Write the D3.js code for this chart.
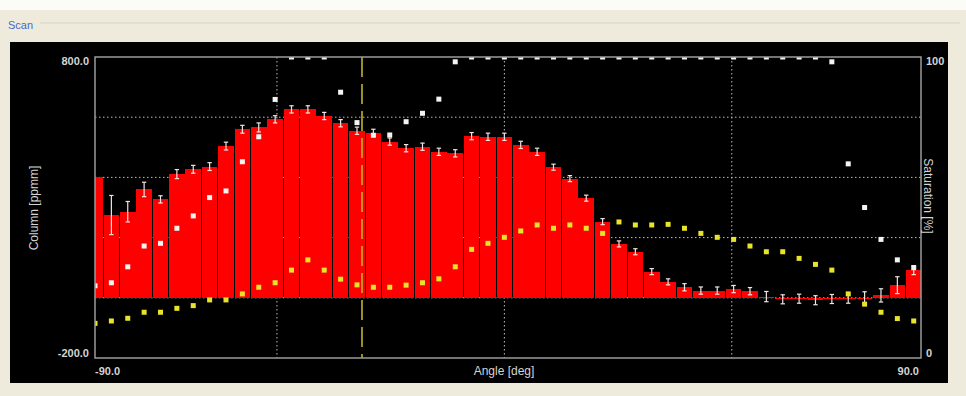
<!DOCTYPE html>
<html><head><meta charset="utf-8">
<script src="https://cdn.jsdelivr.net/npm/d3@7"></script>
<style>
html,body{margin:0;padding:0;background:#eeebdc;}
svg{display:block;}
text{font-family:"Liberation Sans",Arial,sans-serif;}
</style></head>
<body>
<svg id="c" width="966" height="396"></svg>
<script>
// ---- data ----
const angles = [-90,-86.4,-82.8,-79.2,-75.6,-72,-68.4,-64.8,-61.2,-57.6,
  -54,-50.4,-46.8,-43.2,-39.6,-36,-32.4,-28.8,-25.2,-21.6,
  -18,-14.4,-10.8,-7.2,-3.6,0,3.6,7.2,10.8,14.4,
  18,21.6,25.2,28.8,32.4,36,39.6,43.2,46.8,50.4,
  54,57.6,61.2,64.8,68.4,72,75.6,79.2,82.8,86.4,90];
const column = [400,275,286,360,327,411,427,436,504,560,
  566,593,626,626,604,580,555,548,519,497,
  502,485,480,537,535,535,508,485,434,396,
  331,253,179,153,87,53,35,24,24,29,
  22,4,-5,-3,-8,-4,-3,0,8,42,92];
const columnErr = [0,65,34,24,12,15,13,13,13,13,
  15,12,12,12,12,12,12,12,12,12,
  12,12,12,12,12,12,12,12,10,10,
  10,10,10,10,10,10,12,12,12,12,
  12,17,15,15,15,15,15,20,22,28,15];
const satWhite = [24,25,30.3,37.2,38.1,43.1,47.2,53.3,55.5,65.2,
  73.5,85.9,100,100,100,88.3,78.2,74,74.1,78.5,
  81.3,86,98.4,100,100,100,100,100,100,100,
  100,100,100,100,100,100,100,100,100,100,
  100,100,100,100,100,98.4,64.5,50,39.4,32.6,30];
const satYellow = [11.5,12.3,13.2,15.2,15.2,16.5,17.4,19.3,19.3,21.3,
  23.5,25,29.2,32.6,29.2,26.2,24.3,23.5,23.5,24.2,
  25,26.3,30.3,36.1,38.1,40.1,42.2,44.2,43.1,44.2,
  43.1,41.4,45.2,44.2,44.2,44.4,43.1,41.4,40.1,39.4,
  37.2,35.3,35.3,33.1,31.1,29.2,21.3,17.9,15.2,13.1,12.3];
const leftTicks = [-200, 800];
const rightTicks = [0, 100];
const xTickLabels = ["-90.0", "90.0"];
const gridY = [0, 200, 400, 600];
const gridX = [-50, 0, 50];
const cursorAngle = -31.3;

// ---- layout ----
const svg = d3.select("#c");
const L = 95, R = 921, T = 57, B = 358;
const x = d3.scaleLinear().domain([-90, 91.6]).range([L, R]);
const yL = d3.scaleLinear().domain([-200, 800]).range([B, T]);
const yR = d3.scaleLinear().domain([0, 100]).range([B, T]);
const step = x(angles[1]) - x(angles[0]);

// background frame
svg.append("rect").attr("x",0).attr("y",0).attr("width",966).attr("height",10).attr("fill","#fbfbf8");
svg.append("line").attr("x1",40).attr("x2",960).attr("y1",23).attr("y2",23).attr("stroke","#d6d3c0");
svg.append("text").attr("x",8).attr("y",29).attr("font-size",11).attr("fill","#4a68c4").text("Scan");
svg.append("rect").attr("x",10).attr("y",42).attr("width",938).attr("height",341).attr("fill","#000");

svg.append("defs").append("clipPath").attr("id","pc")
  .append("rect").attr("x",L).attr("y",T).attr("width",R-L).attr("height",B-T);
const g = svg.append("g").attr("clip-path","url(#pc)");

// grid
g.selectAll(".gy").data(gridY).join("line")
  .attr("x1",L).attr("x2",R).attr("y1",d=>yL(d)).attr("y2",d=>yL(d))
  .attr("stroke","#bdbdbd").attr("stroke-width",1).attr("stroke-dasharray","1.5,2.5");
g.selectAll(".gx").data(gridX).join("line")
  .attr("y1",T).attr("y2",B).attr("x1",d=>x(d)).attr("x2",d=>x(d))
  .attr("stroke","#bdbdbd").attr("stroke-width",1).attr("stroke-dasharray","1.5,2.5");

// bars
const idx = d3.range(angles.length);
g.selectAll(".bar").data(idx).join("rect")
  .attr("x",i=>x(angles[i]) - step/2 + 0.35)
  .attr("width",step - 0.7)
  .attr("y",i=>Math.min(yL(column[i]), yL(0)))
  .attr("height",i=>Math.max(1, Math.abs(yL(column[i]) - yL(0))))
  .attr("shape-rendering","crispEdges")
  .attr("fill","#ff0000");

// error bars
const eb = g.selectAll(".eb").data(idx.filter(i=>columnErr[i]>0)).join("g");
eb.append("line").attr("x1",i=>x(angles[i])).attr("x2",i=>x(angles[i]))
  .attr("y1",i=>yL(column[i]-columnErr[i])).attr("y2",i=>yL(column[i]+columnErr[i]))
  .attr("stroke","#f2e4e4").attr("stroke-width",1.2);
["-","+"].forEach(s=>{
  eb.append("line").attr("x1",i=>x(angles[i])-2.2).attr("x2",i=>x(angles[i])+2.2)
    .attr("y1",i=>yL(column[i]+(s==="+"?1:-1)*columnErr[i]))
    .attr("y2",i=>yL(column[i]+(s==="+"?1:-1)*columnErr[i]))
    .attr("stroke","#f2e4e4").attr("stroke-width",1.2);
});

// cursor
g.append("line").attr("x1",x(cursorAngle)).attr("x2",x(cursorAngle)).attr("y1",T).attr("y2",B)
  .attr("stroke","#c2b22a").attr("stroke-width",1.6).attr("stroke-dasharray","20,7");

// markers
const ms = 5;
g.selectAll(".mw").data(idx).join("rect")
  .attr("x",i=>x(angles[i])-ms/2).attr("y",i=>yR(satWhite[i])-ms/2)
  .attr("width",ms).attr("height",ms).attr("fill","#f4f4f4");
g.selectAll(".my").data(idx).join("rect")
  .attr("x",i=>x(angles[i])-ms/2).attr("y",i=>yR(satYellow[i])-ms/2)
  .attr("width",ms).attr("height",ms).attr("fill","#e8e42a");

// plot border
svg.append("rect").attr("x",L).attr("y",T).attr("width",R-L).attr("height",B-T)
  .attr("fill","none").attr("stroke","#9a9a9a").attr("stroke-width",1.5);

// tick labels
const tc = "#d4d4d4";
svg.selectAll(".lt").data(leftTicks).join("text")
  .attr("x",89).attr("y",d=>yL(d) + (d===800?8:-1)).attr("text-anchor","end")
  .attr("font-size",11).attr("font-weight","bold").attr("fill",tc).text(d=>d.toFixed(1));
svg.selectAll(".rt").data(rightTicks).join("text")
  .attr("x",926).attr("y",d=>yR(d) + (d===100?8:-1)).attr("text-anchor","start")
  .attr("font-size",11).attr("font-weight","bold").attr("fill",tc).text(d=>d);
svg.append("text").attr("x",L).attr("y",375).attr("text-anchor","start")
  .attr("font-size",11).attr("font-weight","bold").attr("fill",tc).text(xTickLabels[0]);
svg.append("text").attr("x",R-2).attr("y",375).attr("text-anchor","end")
  .attr("font-size",11).attr("font-weight","bold").attr("fill",tc).text(xTickLabels[1]);

// axis titles
svg.append("text").attr("x",(L+R)/2 - 4).attr("y",375).attr("text-anchor","middle")
  .attr("font-size",12).attr("fill",tc).text("Angle [deg]");
svg.append("text").attr("transform","translate(38,208) rotate(-90)").attr("text-anchor","middle")
  .attr("font-size",12).attr("fill",tc).text("Column [ppmm]");
svg.append("text").attr("transform","translate(924,196) rotate(90)").attr("text-anchor","middle")
  .attr("font-size",12).attr("fill",tc).text("Saturation [%]");
</script>
</body></html>
